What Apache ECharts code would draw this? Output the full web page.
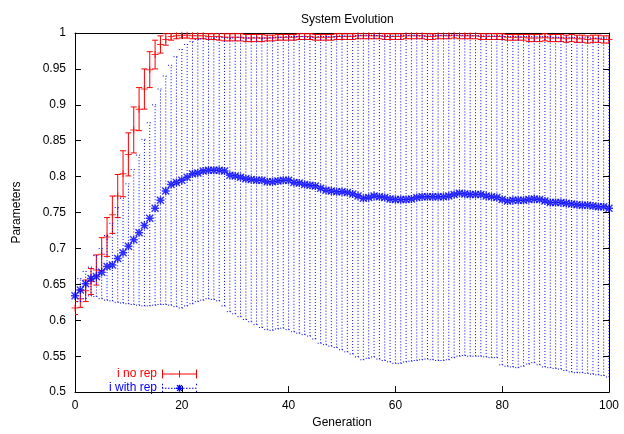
<!DOCTYPE html>
<html>
<head>
<meta charset="utf-8">
<script src="https://cdn.jsdelivr.net/npm/echarts@6/dist/echarts.min.js"></script>
<style>
  html, body { margin: 0; padding: 0; background: #fff; }
  #chart { width: 624px; height: 434px; }
</style>
</head>
<body>
<div id="chart"></div>
<script>
  // generations 0..100
  var gens = [];
  for (var g = 0; g <= 100; g++) gens.push(g);

  // i no rep : mean and half error
  var redMean = [
    0.617, 0.630, 0.641, 0.654, 0.670, 0.692, 0.716, 0.747, 0.773, 0.804,
    0.831, 0.865, 0.894, 0.922, 0.949, 0.970, 0.984, 0.991, 0.995, 0.996,
    0.997, 0.997, 0.996, 0.996, 0.996, 0.995, 0.995, 0.995, 0.994, 0.994,
    0.994, 0.994, 0.993, 0.993, 0.993, 0.993, 0.993, 0.993, 0.994, 0.994,
    0.994, 0.994, 0.995, 0.995, 0.995, 0.994, 0.994, 0.994, 0.994, 0.995,
    0.995, 0.995, 0.995, 0.996, 0.996, 0.996, 0.996, 0.996, 0.995, 0.995,
    0.995, 0.995, 0.996, 0.996, 0.996, 0.996, 0.995, 0.995, 0.996, 0.996,
    0.996, 0.997, 0.996, 0.996, 0.996, 0.996, 0.995, 0.995, 0.995, 0.995,
    0.995, 0.994, 0.994, 0.994, 0.994, 0.993, 0.993, 0.993, 0.994, 0.993,
    0.993, 0.993, 0.992, 0.993, 0.992, 0.992, 0.991, 0.992, 0.992, 0.991,
    0.991
  ];
  var redErr = [
    0.009, 0.012, 0.015, 0.018, 0.021, 0.023, 0.027, 0.026, 0.030, 0.032,
    0.030, 0.032, 0.030, 0.028, 0.025, 0.020, 0.012, 0.008, 0.005, 0.004,
    0.004, 0.004, 0.004, 0.004, 0.004, 0.004, 0.004, 0.005, 0.005, 0.005,
    0.005, 0.005, 0.005, 0.005, 0.005, 0.005, 0.004, 0.004, 0.004, 0.004,
    0.004, 0.004, 0.004, 0.004, 0.004, 0.004, 0.004, 0.004, 0.004, 0.004,
    0.004, 0.004, 0.004, 0.004, 0.004, 0.004, 0.004, 0.004, 0.004, 0.004,
    0.004, 0.004, 0.004, 0.004, 0.004, 0.004, 0.004, 0.004, 0.004, 0.004,
    0.004, 0.004, 0.004, 0.004, 0.004, 0.004, 0.004, 0.004, 0.004, 0.004,
    0.004, 0.004, 0.004, 0.004, 0.004, 0.005, 0.005, 0.005, 0.005, 0.005,
    0.005, 0.005, 0.005, 0.005, 0.005, 0.005, 0.005, 0.005, 0.005, 0.005,
    0.005
  ];

  // i with rep : mean, low and high
  var blueMean = [
    0.634, 0.642, 0.651, 0.658, 0.661, 0.667, 0.675, 0.677, 0.686, 0.694,
    0.703, 0.712, 0.722, 0.732, 0.742, 0.756, 0.767, 0.780, 0.789, 0.792,
    0.795, 0.799, 0.804, 0.805, 0.808, 0.809, 0.809, 0.809, 0.808, 0.802,
    0.801, 0.799, 0.797, 0.796, 0.795, 0.795, 0.793, 0.793, 0.794, 0.795,
    0.795, 0.792, 0.791, 0.789, 0.788, 0.787, 0.784, 0.781, 0.780, 0.779,
    0.779, 0.778, 0.776, 0.773, 0.770, 0.771, 0.773, 0.772, 0.771, 0.769,
    0.768, 0.768, 0.768, 0.769, 0.771, 0.772, 0.772, 0.772, 0.772, 0.772,
    0.773, 0.775, 0.777, 0.776, 0.775, 0.775, 0.775, 0.773, 0.772, 0.771,
    0.768, 0.766, 0.767, 0.767, 0.767, 0.768, 0.769, 0.768, 0.766, 0.764,
    0.764, 0.764, 0.763, 0.762, 0.761, 0.760, 0.760, 0.759, 0.758, 0.758,
    0.756
  ];
  var blueLow = [
    0.624, 0.626, 0.630, 0.634, 0.633, 0.630, 0.628, 0.627, 0.625, 0.624,
    0.623, 0.622, 0.621, 0.620, 0.620, 0.621, 0.622, 0.622, 0.621, 0.619,
    0.617, 0.620, 0.623, 0.626, 0.628, 0.630, 0.629, 0.627, 0.620, 0.612,
    0.609, 0.605, 0.601, 0.598, 0.594, 0.590, 0.587, 0.586, 0.588, 0.589,
    0.587, 0.584, 0.582, 0.580, 0.578, 0.574, 0.568, 0.566, 0.564, 0.562,
    0.559, 0.556, 0.553, 0.549, 0.545, 0.547, 0.549, 0.546, 0.544, 0.542,
    0.540, 0.540, 0.542, 0.543, 0.544, 0.545, 0.546, 0.545, 0.544, 0.544,
    0.545, 0.548, 0.550, 0.551, 0.550, 0.550, 0.550, 0.549, 0.548, 0.548,
    0.538, 0.536, 0.535, 0.534, 0.536, 0.539, 0.541, 0.538, 0.535, 0.534,
    0.533, 0.532, 0.530, 0.528, 0.527, 0.527, 0.526, 0.525, 0.524, 0.523,
    0.521
  ];
  var blueHigh = [
    0.645, 0.658, 0.668, 0.674, 0.690, 0.700, 0.718, 0.735, 0.757, 0.770,
    0.790, 0.810, 0.830, 0.852, 0.875, 0.900, 0.922, 0.940, 0.955, 0.967,
    0.977, 0.984, 0.988, 0.991, 0.992, 0.993, 0.993, 0.994, 0.994, 0.993,
    0.993, 0.994, 0.993, 0.993, 0.994, 0.993, 0.993, 0.994, 0.994, 0.994,
    0.995, 0.995, 0.995, 0.995, 0.994, 0.994, 0.995, 0.995, 0.995, 0.995,
    0.996, 0.996, 0.996, 0.996, 0.997, 0.997, 0.997, 0.996, 0.996, 0.996,
    0.996, 0.997, 0.997, 0.997, 0.997, 0.996, 0.996, 0.997, 0.997, 0.997,
    0.997, 0.997, 0.997, 0.997, 0.997, 0.996, 0.996, 0.996, 0.996, 0.996,
    0.996, 0.995, 0.995, 0.995, 0.995, 0.995, 0.995, 0.995, 0.995, 0.995,
    0.994, 0.994, 0.994, 0.994, 0.994, 0.994, 0.994, 0.993, 0.993, 0.993,
    0.993
  ];

  var yTicks = [0.5, 0.55, 0.6, 0.65, 0.7, 0.75, 0.8, 0.85, 0.9, 0.95, 1];
  var xTicks = [0, 20, 40, 60, 80, 100];

  var FONT = 'Liberation Sans';

  // marker shapes
  var plusPath = 'path://M3,0h1v7h-1z M0,3h7v1h-7z';
  var starPath = 'path://M3.25,0h1.5v8h-1.5z M0,3.25h8v1.5h-8z M1,0L8,7L7,8L0,1z M7,0L8,1L1,8L0,7z';

  // legend samples
  var redIcon = 'path://M0,0h1v9h-1z M34,0h1v9h-1z M0,4h35v1h-35z M17,1h1v7h-1z';
  var blueIcon = 'path://';
  for (var k = 0; k < 35; k += 3) blueIcon += 'M' + k + ',4h1.5v1h-1.5z ';
  blueIcon += 'M0,0h1v1.5h-1z M0,3h1v1h-1z M0,7h1v1.5h-1z M34,0h1v1.5h-1z M34,7h1v1.5h-1z ';
  blueIcon += 'M16.75,1h1.5v7h-1.5z M14,3.75h7v1.5h-7z M14.5,1.5L15.5,1L20.5,7L19.5,7.5z M19.5,1L20.5,1.5L15.5,7.5L14.5,7z';

  function errRender(color, dash, cap) {
    return function (params, api) {
      var x = api.value(0);
      var p0 = api.coord([x, api.value(1)]);
      var p1 = api.coord([x, api.value(2)]);
      var st = { stroke: color, lineWidth: 1, lineDash: dash };
      return {
        type: 'group',
        children: [
          { type: 'line', shape: { x1: p0[0], y1: p0[1], x2: p1[0], y2: p1[1] }, style: st },
          { type: 'line', shape: { x1: p0[0] - cap, y1: p0[1], x2: p0[0] + cap, y2: p0[1] }, style: st },
          { type: 'line', shape: { x1: p1[0] - cap, y1: p1[1], x2: p1[0] + cap, y2: p1[1] }, style: st }
        ]
      };
    };
  }

  var redBars = [], redPts = [], blueBars = [], bluePts = [];
  for (var i = 0; i < gens.length; i++) {
    redBars.push([gens[i], redMean[i] - redErr[i], redMean[i] + redErr[i]]);
    redPts.push([gens[i], redMean[i]]);
    blueBars.push([gens[i], blueLow[i], blueHigh[i]]);
    bluePts.push([gens[i], blueMean[i]]);
  }

  var axisCommon = {
    axisLine: { show: true, onZero: false, lineStyle: { color: '#000', width: 1 } },
    axisTick: { show: true, inside: true, length: 6, lineStyle: { color: '#000' } },
    splitLine: { show: false }
  };

  var chart = echarts.init(document.getElementById('chart'));
  chart.setOption({
    animation: false,
    backgroundColor: '#fff',
    textStyle: { fontFamily: FONT },
    title: {
      text: 'System Evolution',
      left: 296, top: 9,
      textStyle: { fontFamily: FONT, fontSize: 12, fontWeight: 'normal', color: '#000' }
    },
    grid: { left: 75, right: 15, top: 33, bottom: 37 },
    legend: [{
      data: [{ name: 'i no rep', icon: redIcon, itemStyle: { color: '#ff0000' } }],
      right: 422, top: 363, align: 'right', itemWidth: 35, itemHeight: 9, itemGap: 7,
      selectedMode: false,
      textStyle: { fontFamily: FONT, fontSize: 12, color: '#ff0000' }
    }, {
      data: [{ name: 'i with rep', icon: blueIcon, itemStyle: { color: '#0000ff' } }],
      right: 422, top: 377, align: 'right', itemWidth: 35, itemHeight: 9, itemGap: 7,
      selectedMode: false,
      textStyle: { fontFamily: FONT, fontSize: 12, color: '#0000ff' }
    }],
    xAxis: [
      Object.assign({
        type: 'value', min: xTicks[0], max: xTicks[xTicks.length - 1], interval: 20,
        position: 'bottom',
        name: 'Generation', nameLocation: 'middle', nameGap: 24,
        nameTextStyle: { fontFamily: FONT, fontSize: 12, color: '#000' },
        axisLabel: { color: '#000', fontFamily: FONT, fontSize: 12, margin: 8 }
      }, axisCommon),
      Object.assign({
        type: 'value', min: xTicks[0], max: xTicks[xTicks.length - 1], interval: 20,
        position: 'top', axisLabel: { show: false }
      }, axisCommon)
    ],
    yAxis: [
      Object.assign({
        type: 'value', min: yTicks[0], max: yTicks[yTicks.length - 1], interval: 0.05,
        position: 'left',
        name: 'Parameters', nameLocation: 'middle', nameGap: 52,
        nameTextStyle: { fontFamily: FONT, fontSize: 12, color: '#000' },
        axisLabel: { color: '#000', fontFamily: FONT, fontSize: 12, margin: 9 }
      }, axisCommon),
      Object.assign({
        type: 'value', min: yTicks[0], max: yTicks[yTicks.length - 1], interval: 0.05,
        position: 'right', axisLabel: { show: false }
      }, axisCommon)
    ],
    series: [{
      name: 'i no rep', type: 'custom', renderItem: errRender('#ff0000', null, 3),
      encode: { x: 0, y: [1, 2] }, data: redBars, clip: true, z: 2
    }, {
      name: 'i no rep', type: 'scatter', symbol: plusPath, symbolSize: 7,
      itemStyle: { color: '#ff0000' }, data: redPts, z: 3
    }, {
      name: 'i with rep', type: 'custom', renderItem: errRender('#0000ff', [1, 2], 3),
      encode: { x: 0, y: [1, 2] }, data: blueBars, clip: true, z: 4
    }, {
      name: 'i with rep', type: 'scatter', symbol: starPath, symbolSize: 8,
      itemStyle: { color: '#0000ff' }, data: bluePts, z: 5
    }]
  });
</script>
</body>
</html>
